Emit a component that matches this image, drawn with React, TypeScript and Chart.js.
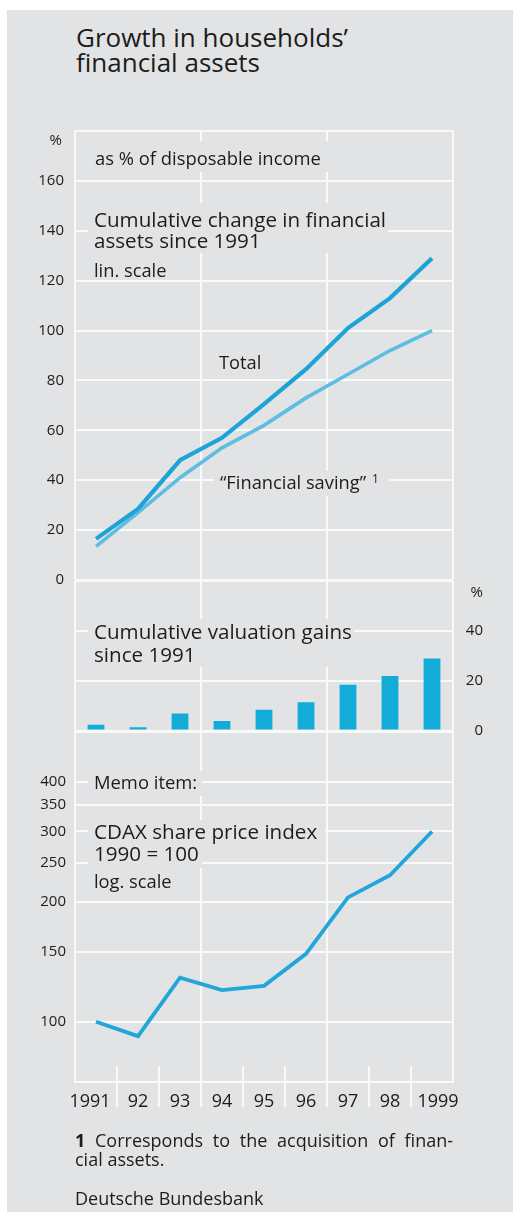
import React, { useEffect, useRef } from "react";
import { Chart, registerables } from "chart.js";

Chart.register(...registerables);

// ---------- data ----------
const years = ["1991", "92", "93", "94", "95", "96", "97", "98", "1999"];
const totalChange = [16.5, 28.5, 48, 57, 70.5, 84.5, 101, 113, 129];
const financialSaving = [13.5, 27, 41, 53, 62, 73, 82.5, 92, 100];
const valuationGains = [2.5, 1.5, 7, 4, 8.5, 11.5, 18.5, 22, 29];
const cdaxIndex = [100, 92, 129, 120, 123, 148, 205, 233, 300];
const topTicks = [0, 20, 40, 60, 80, 100, 120, 140, 160];
const midTicks = [0, 20, 40];
const logTicks = [100, 150, 200, 250, 300, 350, 400];

// ---------- style ----------
const FONT = "'Open Sans', sans-serif";
const BG = "#e2e3e5";
const INK = "#1c1c1c";
const WHITE = "#f9f9fa";
const CLEAR = "rgba(0,0,0,0)";
const TOTAL = "#1da3d8";
const SAVING = "#5fbde2";
const BAR = "#13acd9";
const CDAX = "#22a6da";
const W = 513;

Chart.defaults.font.family = FONT;
Chart.defaults.color = INK;

type Note = { text: string; x: number; y: number; size: number; align?: CanvasTextAlign; sup?: string };
type Mask = { x: number; y: number; w: number; h: number };

function annotate(id: string, top: number, notes: Note[], masks: Mask[], stubs = false) {
  return {
    id,
    beforeDatasetsDraw(chart: any) {
      const ctx = chart.ctx as CanvasRenderingContext2D;
      ctx.save();
      ctx.fillStyle = BG;
      masks.forEach((m) => ctx.fillRect(m.x, m.y - top, m.w, m.h));
      if (stubs) {
        const x = chart.scales.x;
        ctx.strokeStyle = WHITE;
        ctx.lineWidth = 2;
        for (let i = 1; i < years.length; i++) {
          const px = Math.round((x.getPixelForValue(i - 1) + x.getPixelForValue(i)) / 2);
          ctx.beginPath();
          ctx.moveTo(px, 1066 - top);
          ctx.lineTo(px, chart.chartArea.bottom);
          ctx.stroke();
        }
      }
      ctx.fillStyle = INK;
      ctx.textBaseline = "alphabetic";
      notes.forEach((n) => {
        ctx.font = `400 ${n.size}px ${FONT}`;
        ctx.textAlign = n.align || "left";
        ctx.fillText(n.text, n.x, n.y - top);
        if (n.sup) {
          const w = ctx.measureText(n.text).width;
          ctx.font = `400 12px ${FONT}`;
          ctx.fillText(n.sup, n.x + w + 6, n.y - top - 6);
        }
      });
      ctx.restore();
    },
  };
}

function xScale(showLabels: boolean) {
  return {
    type: "category",
    offset: true,
    grid: {
      offset: true,
      color: (c: any) => (c.index === undefined || c.index % 3 === 0 ? WHITE : CLEAR),
      lineWidth: 2,
      drawTicks: showLabels,
      tickLength: 25,
      tickWidth: 2,
      tickColor: (c: any) => (c.index === undefined || c.index === 0 ? CLEAR : WHITE),
    },
    border: { display: showLabels, color: WHITE, width: 2 },
    ticks: {
      display: showLabels,
      autoSkip: false,
      maxRotation: 0,
      padding: -16.4,
      color: INK,
      font: { size: 18 },
      callback: (_v: any, i: number) =>
        i === 0 ? years[i] + "\u2002\u2009" : i === years.length - 1 ? "\u2002\u2009" + years[i] : years[i],
    },
    afterFit: (s: any) => {
      s.height = showLabels ? 40 : 0;
    },
  };
}

const baseOptions = {
  responsive: false,
  maintainAspectRatio: false,
  animation: false,
  devicePixelRatio: 1,
  events: [],
};
const noPlugins = { legend: { display: false }, tooltip: { enabled: false }, title: { display: false } };

function topConfig(): any {
  return {
    type: "line",
    data: {
      labels: years,
      datasets: [
        { data: totalChange, borderColor: TOTAL, borderWidth: 4.2, pointRadius: 0, tension: 0 },
        { data: financialSaving, borderColor: SAVING, borderWidth: 3.6, pointRadius: 0, tension: 0 },
      ],
    },
    options: {
      ...baseOptions,
      layout: { padding: { top: 131, bottom: 19, left: 0, right: 60 } },
      plugins: noPlugins,
      scales: {
        x: xScale(false),
        y: {
          min: 0,
          max: 180,
          bounds: "data",
          afterBuildTicks: (s: any) => {
            s.ticks = [...topTicks, 180].map((v) => ({ value: v }));
          },
          afterFit: (s: any) => {
            s.width = 75;
          },
          grid: {
            color: WHITE,
            lineWidth: (c: any) => (c.tick && c.tick.value === 0 ? 3 : 2),
            drawTicks: false,
          },
          border: { display: false },
          ticks: {
            autoSkip: false,
            padding: 11,
            font: { size: 15 },
            color: INK,
            callback: (v: any) => (topTicks.includes(v) ? String(v) : ""),
          },
        },
      },
    },
    plugins: [
      annotate(
        "notesTop",
        0,
        [
          { text: "%", x: 62, y: 145, size: 15, align: "right" },
          { text: "as % of disposable income", x: 95, y: 165, size: 18.4 },
          { text: "Cumulative change in financial", x: 94, y: 227.3, size: 20.6 },
          { text: "assets since 1991", x: 94, y: 248.3, size: 20.6 },
          { text: "lin. scale", x: 94, y: 276.7, size: 18.3 },
          { text: "Total", x: 219, y: 369.3, size: 18.3 },
          { text: "\u201CFinancial saving\u201D", x: 220, y: 489.3, size: 18.3, sup: "1" },
        ],
        [
          { x: 88, y: 141, w: 247, h: 31 },
          { x: 88, y: 203, w: 300, h: 50 },
          { x: 214, y: 471, w: 175, h: 25 },
        ]
      ),
    ],
  };
}

const MID_TOP = 560;
function midConfig(): any {
  return {
    type: "bar",
    data: {
      labels: years,
      datasets: [
        { data: valuationGains, backgroundColor: BAR, barPercentage: 0.4, categoryPercentage: 1, borderWidth: 0 },
      ],
    },
    options: {
      ...baseOptions,
      layout: { padding: { top: 21, bottom: 29, left: 75, right: 30 } },
      plugins: noPlugins,
      scales: {
        x: xScale(false),
        y: {
          position: "right",
          min: 0,
          max: 60,
          bounds: "data",
          afterBuildTicks: (s: any) => {
            s.ticks = [...midTicks, 60].map((v) => ({ value: v }));
          },
          afterFit: (s: any) => {
            s.width = 30;
          },
          grid: {
            color: (c: any) => (c.tick && c.tick.value === 60 ? CLEAR : WHITE),
            lineWidth: (c: any) => (c.tick && c.tick.value === 0 ? 3 : 2),
            drawTicks: false,
          },
          border: { display: false },
          ticks: {
            autoSkip: false,
            crossAlign: "far",
            font: { size: 15 },
            color: INK,
            callback: (v: any) => (midTicks.includes(v) ? String(v) : ""),
          },
        },
      },
    },
    plugins: [
      annotate(
        "notesMid",
        MID_TOP,
        [
          { text: "%", x: 483, y: 597, size: 15, align: "right" },
          { text: "Cumulative valuation gains", x: 94, y: 639.3, size: 20.6 },
          { text: "since 1991", x: 94, y: 661.7, size: 20.6 },
        ],
        [{ x: 88, y: 619, w: 266, h: 48 }]
      ),
    ],
  };
}

const BOT_TOP = 700;
function botConfig(): any {
  return {
    type: "line",
    data: {
      labels: years,
      datasets: [{ data: cdaxIndex, borderColor: CDAX, borderWidth: 3.8, pointRadius: 0, tension: 0 }],
    },
    options: {
      ...baseOptions,
      layout: { padding: { top: 31, bottom: 8, left: 0, right: 60 } },
      plugins: noPlugins,
      scales: {
        x: xScale(true),
        y: {
          type: "logarithmic",
          min: 70.6,
          max: 536,
          bounds: "data",
          afterBuildTicks: (s: any) => {
            s.ticks = logTicks.map((v) => ({ value: v }));
          },
          afterFit: (s: any) => {
            s.width = 75;
          },
          grid: { color: WHITE, lineWidth: 2, drawTicks: false },
          border: { display: false },
          ticks: {
            autoSkip: false,
            padding: 9,
            font: { size: 15 },
            color: INK,
            callback: (v: any) => String(v),
          },
        },
      },
    },
    plugins: [
      annotate(
        "notesBot",
        BOT_TOP,
        [
          { text: "Memo item:", x: 94, y: 789.3, size: 18.4 },
          { text: "CDAX share price index", x: 94, y: 839.3, size: 20.6 },
          { text: "1990 = 100", x: 94, y: 861, size: 20.6 },
          { text: "log. scale", x: 94, y: 888.3, size: 18.3 },
        ],
        [
          { x: 88, y: 771, w: 114, h: 25 },
          { x: 88, y: 820, w: 237, h: 24 },
          { x: 88, y: 844, w: 114, h: 24 },
        ],
        true
      ),
    ],
  };
}

function ChartCanvas({ top, height, config }: { top: number; height: number; config: () => any }) {
  const ref = useRef<HTMLCanvasElement>(null);
  useEffect(() => {
    const chart = new Chart(ref.current as HTMLCanvasElement, config());
    return () => chart.destroy();
  }, []);
  return (
    <canvas
      ref={ref}
      width={W}
      height={height}
      style={{ position: "absolute", left: 0, top, width: W, height, display: "block" }}
    />
  );
}

export default function App() {
  const text: React.CSSProperties = { position: "absolute", fontFamily: FONT, color: INK, margin: 0 };
  return (
    <div style={{ position: "absolute", left: 0, top: 0, width: W, height: 1212, overflow: "hidden", background: "#ffffff" }}>
      <div style={{ position: "absolute", left: 7, top: 10, width: W - 7, height: 1202, background: BG }} />
      <div style={{ ...text, left: 76, top: 24.5, fontSize: 26, lineHeight: "25.4px", whiteSpace: "nowrap" }}>
        Growth in households’
        <br />
        financial assets
      </div>
      <ChartCanvas top={0} height={600} config={topConfig} />
      <ChartCanvas top={MID_TOP} height={200} config={midConfig} />
      <ChartCanvas top={BOT_TOP} height={430} config={botConfig} />
      <div
        style={{
          ...text,
          left: 75,
          top: 1130.8,
          width: 378,
          fontSize: 18,
          lineHeight: "19px",
          textAlign: "justify",
          textAlignLast: "justify",
          whiteSpace: "nowrap",
        }}
      >
        <b>1</b> Corresponds to the acquisition of finan-
      </div>
      <div style={{ ...text, left: 75, top: 1149.8, fontSize: 18, lineHeight: "19px", whiteSpace: "nowrap" }}>
        cial assets.
      </div>
      <div style={{ ...text, left: 75, top: 1188.5, fontSize: 18, lineHeight: "19px", whiteSpace: "nowrap" }}>
        Deutsche Bundesbank
      </div>
    </div>
  );
}
